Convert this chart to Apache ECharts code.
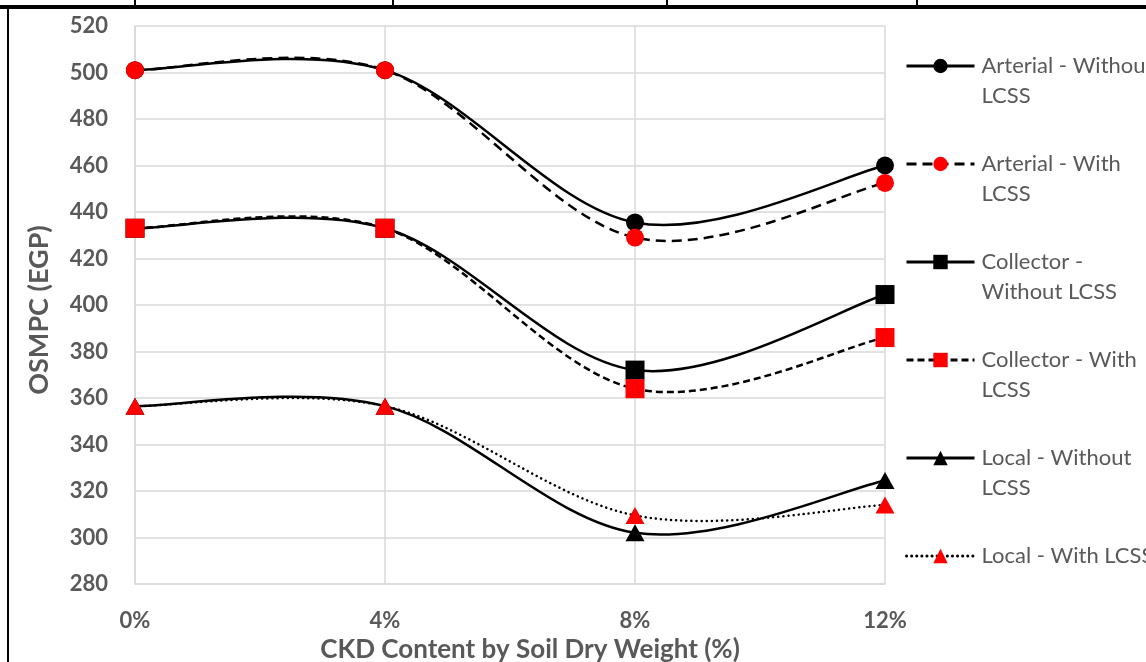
<!DOCTYPE html>
<html>
<head>
<meta charset="utf-8">
<script src="https://cdn.jsdelivr.net/npm/echarts@6/dist/echarts.min.js"></script>
<style>
  html, body { margin: 0; padding: 0; background: #fff; }
  #main { width: 1146px; height: 662px; }
</style>
</head>
<body>
<div id="main"></div>
<script>
// CKD content levels
const categories = ['0%', '4%', '8%', '12%'];

// OSMPC (EGP) per road class
const arterialWithout = [501, 501, 435.5, 460];
const arterialWith = [501, 501, 429, 452.5];
const collectorWithout = [433, 433, 372, 404.5];
const collectorWith = [433, 433, 364, 386];
const localWithout = [356.5, 356.5, 302, 324.5];
const localWith = [356.5, 356.5, 309.5, 314];

const yMin = 280;
const yMax = 520;
const yStep = 20;

// legend text wrapped like the original (blank first line keeps the icon on line one)
const legendText = {
  'Arterial - Without LCSS': '\nArterial - Without\nLCSS',
  'Arterial - With LCSS': '\nArterial - With\nLCSS',
  'Collector - Without LCSS': '\nCollector -\nWithout LCSS',
  'Collector - With LCSS': '\nCollector - With\nLCSS',
  'Local - Without LCSS': '\nLocal - Without\nLCSS',
  'Local - With LCSS': '\nLocal - With LCSS\n ',
};

const FONT = 'Lato';
const GREY_TXT = '#595959';
const GRID_CLR = '#d9d9d9';

const lines = [
  { name: 'Arterial - Without LCSS', data: arterialWithout, symbol: 'circle', size: 18, fill: '#000', dash: 'solid' },
  { name: 'Arterial - With LCSS', data: arterialWith, symbol: 'circle', size: 18, fill: '#ff0000', dash: [10, 6] },
  { name: 'Collector - Without LCSS', data: collectorWithout, symbol: 'rect', size: 19, fill: '#000', dash: 'solid' },
  { name: 'Collector - With LCSS', data: collectorWith, symbol: 'rect', size: 19, fill: '#ff0000', dash: [7, 4] },
  { name: 'Local - Without LCSS', data: localWithout, symbol: 'triangle', size: [19, 17], fill: '#000', dash: 'solid' },
  { name: 'Local - With LCSS', data: localWith, symbol: 'triangle', size: [19, 17], fill: '#ff0000', dash: [0.1, 5] },
];

function dashArr(dash) {
  return dash === 'solid' ? null : dash;
}

// Excel-style smoothed line (catmull-rom -> bezier) through the axis coordinates
function curveRenderer(values, dash) {
  return function (params, api) {
    if (params.dataIndex !== 0) return null;
    const pts = values.map((v, i) => api.coord([i, v]));
    let d = 'M' + pts[0][0] + ' ' + pts[0][1];
    for (let i = 0; i < pts.length - 1; i++) {
      const p0 = pts[i - 1] || pts[i];
      const p1 = pts[i];
      const p2 = pts[i + 1];
      const p3 = pts[i + 2] || pts[i + 1];
      const c1x = p1[0] + (p2[0] - p0[0]) / 6;
      const c1y = p1[1] + (p2[1] - p0[1]) / 6;
      const c2x = p2[0] - (p3[0] - p1[0]) / 6;
      const c2y = p2[1] - (p3[1] - p1[1]) / 6;
      d += ' C' + c1x + ' ' + c1y + ' ' + c2x + ' ' + c2y + ' ' + p2[0] + ' ' + p2[1];
    }
    return {
      type: 'path',
      shape: { pathData: d },
      silent: true,
      style: {
        fill: 'none',
        stroke: '#000',
        lineWidth: 2.5,
        lineDash: dashArr(dash),
        lineCap: dash === 'solid' ? 'butt' : (dash[0] < 1 ? 'round' : 'butt'),
      },
    };
  };
}

const curveSeries = lines.map((l) => ({
  type: 'custom',
  z: 1,
  silent: true,
  data: l.data.map((v, i) => [i, v]),
  renderItem: curveRenderer(l.data, l.dash),
}));

const markerSeries = lines.map((l) => ({
  name: l.name,
  type: 'line',
  z: 3,
  data: l.data,
  symbol: l.symbol,
  symbolSize: l.size,
  itemStyle: { color: l.fill, borderWidth: 0 },
  lineStyle: { opacity: 0 },
  emphasis: { disabled: true },
}));

const chart = echarts.init(document.getElementById('main'));
chart.setOption({
  animation: false,
  backgroundColor: '#fff',
  grid: { left: 135, right: 261, top: 26, bottom: 78, outerBoundsMode: 'none' },
  legend: {
    orient: 'vertical',
    left: 905,
    top: 21,
    padding: 0,
    itemGap: 8,
    itemWidth: 68,
    itemHeight: 18,
    data: lines.map((l) => ({
      name: l.name,
      lineStyle: {
        color: '#000', width: 3, opacity: 1,
        type: l.dash === 'solid' ? 'solid' : l.dash,
        cap: l.dash !== 'solid' && l.dash[0] < 1 ? 'round' : 'butt',
      },
    })),
    formatter: (n) => legendText[n],
    textStyle: { fontFamily: FONT, fontSize: 22, color: GREY_TXT, lineHeight: 30, padding: [0, 0, 0, 2] },
  },
  xAxis: {
    type: 'category',
    data: categories,
    boundaryGap: false,
    axisLine: { lineStyle: { color: GRID_CLR, width: 1.5 } },
    axisTick: { show: false },
    splitLine: { show: true, lineStyle: { color: GRID_CLR, width: 1.5 } },
    axisLabel: { fontFamily: FONT, fontWeight: 'bold', fontSize: 22, color: GREY_TXT, margin: 26 },
    name: 'CKD Content by Soil Dry Weight (%)',
    nameLocation: 'middle',
    nameGap: 52,
    nameTextStyle: { fontFamily: FONT, fontWeight: 'bold', fontSize: 26, color: GREY_TXT, padding: [0, 0, 0, 40] },
  },
  yAxis: {
    type: 'value',
    min: yMin,
    max: yMax,
    interval: yStep,
    axisLine: { show: true, lineStyle: { color: GRID_CLR, width: 1.5 } },
    axisTick: { show: false },
    splitLine: { lineStyle: { color: GRID_CLR, width: 1.5 } },
    axisLabel: { fontFamily: FONT, fontWeight: 'bold', fontSize: 22, color: GREY_TXT, margin: 27 },
    name: 'OSMPC (EGP)',
    nameLocation: 'middle',
    nameGap: 82,
    nameRotate: 90,
    nameTextStyle: { fontFamily: FONT, fontWeight: 'bold', fontSize: 27, color: GREY_TXT, padding: [0, 10, 0, 0] },
  },
  series: curveSeries.concat(markerSeries),
  // page border around the chart (cropped document frame)
  graphic: [
    { type: 'rect', shape: { x: 0, y: 5, width: 1146, height: 4 }, style: { fill: '#000' } },
    { type: 'rect', shape: { x: 7, y: 9, width: 2, height: 653 }, style: { fill: '#000' } },
    { type: 'rect', shape: { x: 134, y: 0, width: 2, height: 5 }, style: { fill: '#000' } },
    { type: 'rect', shape: { x: 392, y: 0, width: 2, height: 5 }, style: { fill: '#000' } },
    { type: 'rect', shape: { x: 666, y: 0, width: 2, height: 5 }, style: { fill: '#000' } },
    { type: 'rect', shape: { x: 916, y: 0, width: 2, height: 5 }, style: { fill: '#000' } },
  ],
});
</script>
</body>
</html>
